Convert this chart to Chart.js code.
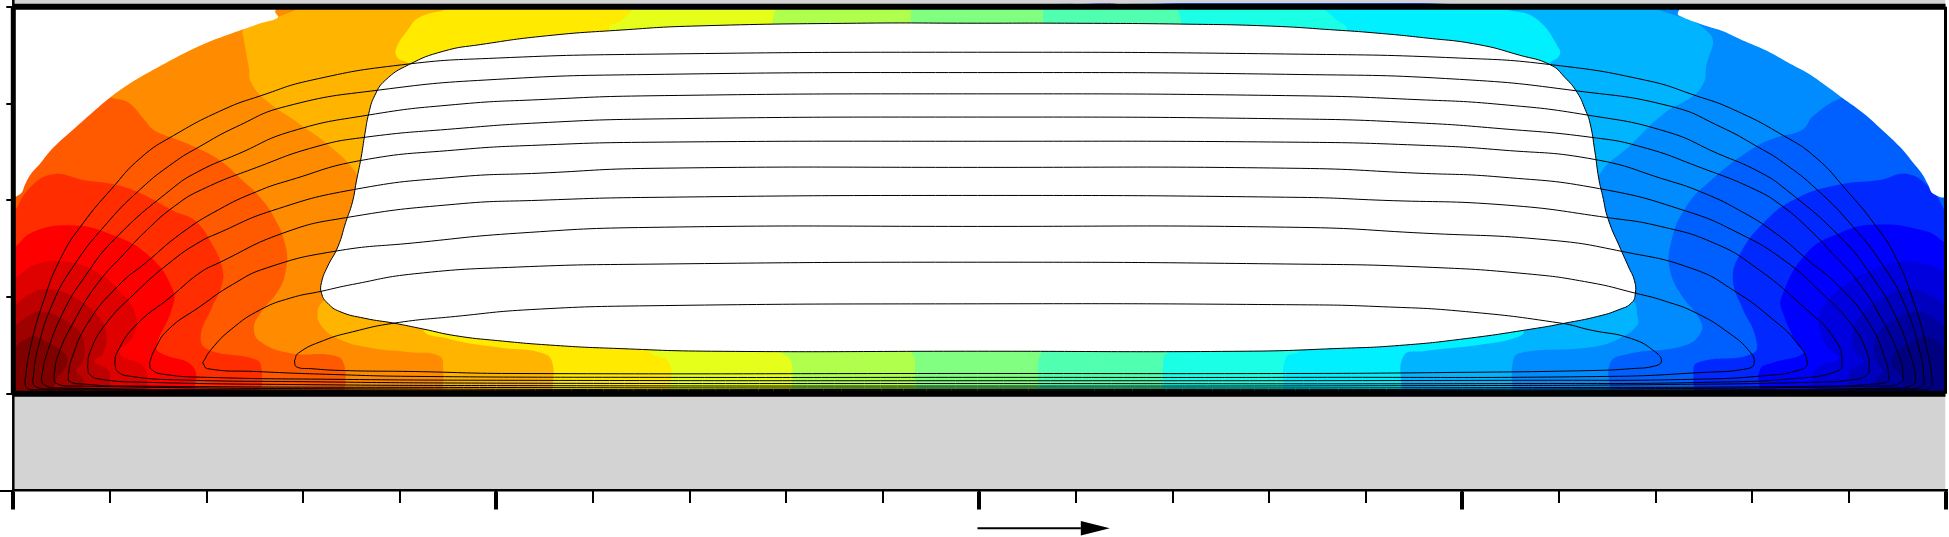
<!DOCTYPE html>
<html>
<head>
<meta charset="utf-8">
<style>
  html, body { margin: 0; padding: 0; background: #fff; overflow: hidden; }
  canvas { display: block; }
</style>
<script src="https://cdn.jsdelivr.net/npm/chart.js@4/dist/chart.umd.min.js"></script>
</head>
<body>
<canvas id="myChart" width="1949" height="537"></canvas>
<script>
// band colours, coldest first, each one fills everything left of its edge
const baseColor = '#000080';
const bandColors = [
  '#00009f', '#0000bf', '#0000df', '#0000ff', '#0028ff', '#0060ff', '#008cff', '#00b4ff',
  '#00f0ff', '#1affe6', '#50ffb0', '#80ff80', '#b0ff4d', '#e6ff1a', '#ffea00', '#ffb400',
  '#ff8c00', '#ff5a00', '#ff2d00', '#ff0000', '#df0000', '#bf0000', '#9f0000', '#800000'
];

// contour edges, top to bottom
const bandEdges = [
  [[2000,47],[1988,56],[1978,59],[1962,52],[1949,44],[1944,34],[1949,23],[1955,16],[1959,0]],
  [[2000,69],[1985,80],[1971,85],[1950,78],[1931,63],[1926,49],[1929,32],[1935,23],[1928,16],[1928,0]],
  [[2000,92],[1980,104],[1961,108],[1936,99],[1912,80],[1904,63],[1907,42],[1916,33],[1902,25],[1900,13],[1900,0]],
  [[2000,127],[1980,134],[1956,137],[1925,128],[1890,108],[1871,85],[1870,66],[1880,45],[1890,37],[1865,25],[1864,0]],
  [[2000,156],[1980,168],[1928,175],[1890,166],[1856,145],[1830,99],[1832,83],[1846,52],[1853,42],[1821,32],[1808,25],[1808,0]],
  [[2000,188],[1987,209],[1962,227],[1932,221],[1889,216],[1846,202],[1812,177],[1786,142],[1780,117],[1790,88],[1803,60],[1801,42],[1743,32],[1739,18],[1741,0]],
  [[2000,340],[1893,306],[1863,287],[1852,273],[1825,265],[1803,255],[1760,223],[1730,191],[1715,152],[1715,127],[1726,103],[1745,78],[1747,64],[1730,50],[1670,41],[1653,32],[1653,0]],
  [[1696,400],[1756,372],[1752,336],[1750,322],[1739,308],[1709,290],[1675,258],[1640,223],[1620,150],[1660,105],[1677,96],[1681,81],[1681,71],[1662,57],[1632,48],[1559,42],[1552,32],[1552,0]],
  [[1530,400],[1546,397],[1576,388],[1600,357],[1600,349],[1589,340],[1500,200],[1520,100],[1563,65],[1555,58],[1520,51],[1460,44],[1439,39],[1437,0]],
  [[1350,400],[1357,397],[1368,388],[1380,375],[1300,200],[1332,50],[1332,44],[1317,37],[1315,0]],
  [[1205,400],[1209,380],[1200,200],[1197,50],[1197,44],[1191,38],[1190,0]],
  [[1066,400],[1066,380],[1065,200],[1064,50],[1064,42],[1061,35],[1061,0]],
  [[929,400],[929,380],[930,200],[929,50],[929,44],[933,37],[933,0]],
  [[789,400],[786,380],[800,200],[790,50],[796,42],[805,34],[806,0]],
  [[645,400],[628,385],[617,377],[700,200],[655,50],[660,42],[679,32],[680,0]],
  [[455,400],[447,397],[420,389],[409,377],[396,356],[398,347],[409,340],[450,200],[440,120],[424,68],[450,57],[501,48],[548,42],[558,32],[558,0]],
  [[300,400],[278,391],[239,377],[239,365],[244,336],[246,322],[261,304],[295,280],[329,255],[355,228],[372,195],[351,124],[320,95],[315,84],[319,70],[338,56],[372,47],[410,43],[441,39],[445,25],[444,0]],
  [[0,340],[102,306],[119,301],[136,283],[145,273],[166,264],[188,255],[214,241],[239,219],[252,207],[269,184],[282,152],[282,127],[274,106],[257,85],[249,67],[257,53],[287,42],[334,39],[343,28],[343,0]],
  [[0,186],[18,214],[42,227],[72,221],[106,216],[132,207],[166,189],[188,179],[205,156],[216,131],[216,113],[205,88],[194,60],[201,46],[252,35],[257,25],[257,0]],
  [[0,150],[22,168],[63,174],[98,166],[139,144],[165,108],[164,87],[148,49],[153,42],[186,28],[188,0]],
  [[0,118],[22,133],[50,137],[84,127],[112,104],[127,80],[124,59],[110,42],[136,27],[138,0]],
  [[0,90],[19,104],[38,108],[64,99],[88,80],[96,63],[93,42],[84,33],[98,25],[100,13],[100,0]],
  [[0,69],[15,80],[29,85],[50,78],[69,63],[74,49],[71,32],[65,23],[72,16],[72,0]],
  [[0,47],[12,56],[22,59],[38,52],[51,44],[56,34],[51,23],[45,16],[41,0]]
];

// blank regions of the field
const cornerLeft = [[0,400],[0,205],[8,207],[12,216],[18,227],[27,237],[42,255],[63,274],[81,290],[100,306],[115,317],[136,330],[158,342],[179,353],[201,363],[222,371],[239,377],[256,383],[274,389],[271,395],[275,400]];
const cornerRight = [[2000,400],[2000,205],[1987,207],[1982,216],[1976,227],[1968,237],[1953,255],[1933,274],[1915,290],[1893,306],[1878,317],[1858,331],[1836,343],[1816,354],[1793,364],[1769,375],[1750,381],[1724,391],[1723,394],[1727,400]];
const hole = [
  [998,383],[873,383],[702,380],[630,376],[552,370],[484,361],[445,354],[409,340],[385,324],[374,308],[368,290],[364,269],[360,244],[355,219],
  [351,198],[344,177],[336,152],[325,131],[319,115],[319,104],[325,94],[338,85],[364,78],[394,73],[424,67],[458,60],[501,55],[561,50],[621,47],
  [723,44],[998,44],[1275,44],[1375,47],[1435,50],[1503,57],[1572,67],[1606,73],[1640,80],[1662,87],[1675,94],[1679,104],[1678,117],[1672,131],
  [1664,149],[1651,180],[1645,205],[1641,223],[1637,251],[1632,280],[1627,294],[1619,311],[1606,327],[1591,340],[1559,350],[1516,361],[1460,368],
  [1409,373],[1368,376],[1302,380],[1217,382],[1088,383],[998,383]
];

// closed stream lines, innermost first
const streamLines = [
  [[291,34],[295,42],[321,55],[351,64],[394,73],[458,80],[535,87],[659,91],[998,93],[1332,92],[1417,90],[1503,85],[1602,73],[1632,66],[1675,57],[1700,43],[1706,34],[1700,29],[1675,26],[1632,24],[1482,22],[1332,21],[998,21],[514,21],[415,23],[343,24],[308,26],[293,28],[291,34]],
  [[196,32],[205,46],[226,67],[256,87],[287,99],[319,106],[351,113],[415,124],[522,131],[659,134],[998,136],[1332,134],[1460,131],[1567,124],[1632,115],[1679,104],[1709,96],[1743,83],[1777,62],[1797,44],[1802,32],[1795,26],[1747,22],[1653,18],[1332,17],[998,17],[659,17],[415,18],[330,20],[252,23],[201,26],[196,32]],
  [[141,32],[146,45],[160,66],[193,90],[227,113],[262,130],[331,147],[415,156],[522,166],[659,172],[998,173],[1332,172],[1460,166],[1589,159],[1666,147],[1739,129],[1782,106],[1820,78],[1846,53],[1857,32],[1850,25],[1816,19],[1739,15],[1589,14],[998,13.5],[500,14],[330,15],[201,17],[157,20],[143,25],[141,32]],
  [[105,32],[107,42],[126,70],[164,101],[193,125],[212,135],[279,166],[344,182],[458,196],[544,200],[659,203],[998,205],[1332,203],[1417,200],[1546,195],[1651,182],[1705,173],[1760,156],[1803,131],[1855,88],[1885,57],[1893,32],[1887,23],[1846,16],[1760,12],[1589,10.6],[998,10.6],[500,11],[300,12.5],[167,14.5],[122,18],[108,23],[105,32]],
  [[77,28],[79,42],[94,70],[126,104],[165,138],[193,157],[212,166],[267,189],[352,211],[458,224],[544,228],[659,233],[998,234],[1332,233],[1454,228],[1540,224],[1642,212],[1731,189],[1786,166],[1833,138],[1872,104],[1904,70],[1919,42],[1921,28],[1919,20],[1907,15],[1865,12],[1698,9.5],[1498,8.5],[998,8],[500,8.5],[300,9.5],[133,12],[91,15],[79,20],[77,28]],
  [[57,20],[60,35],[77,73],[108,111],[139,137],[174,166],[212,190],[252,209],[287,221],[359,241],[458,252],[544,257],[659,260],[998,261],[1332,260],[1454,257],[1540,252],[1638,242],[1711,221],[1746,209],[1786,190],[1824,166],[1859,137],[1890,111],[1921,73],[1938,35],[1941,20],[1940,13],[1924,10],[1883,8],[1600,6.5],[998,6],[500,6.5],[115,8],[74,10],[58,13],[57,20]],
  [[42,18],[46,39],[64,77],[88,115],[115,145],[139,170],[167,194],[195,211],[252,234],[312,255],[363,265],[458,274],[544,280],[659,284],[998,286],[1332,284],[1454,280],[1540,274],[1634,265],[1686,255],[1746,234],[1803,211],[1831,194],[1859,170],[1883,145],[1910,115],[1934,77],[1952,39],[1956,18],[1953,11],[1935,8],[1600,5],[998,4.5],[400,5],[64,8],[44,11],[42,18]],
  [[29,16],[34,39],[51,83],[74,121],[105,160],[163,211],[192,230],[233,248],[287,271],[367,288],[458,299],[544,304],[659,308],[998,310],[1332,308],[1454,304],[1540,299],[1630,288],[1711,271],[1765,248],[1806,230],[1835,211],[1893,160],[1924,121],[1947,83],[1964,39],[1969,16],[1967,10],[1952,6],[1600,3.8],[998,3.5],[400,3.8],[46,6],[31,10],[29,16]],
  [[20,13],[25,45],[41,94],[63,133],[94,173],[131,211],[166,239],[192,255],[231,276],[282,297],[379,314],[501,325],[659,330],[998,332],[1332,330],[1497,325],[1619,313],[1716,297],[1767,276],[1806,255],[1832,239],[1867,211],[1904,173],[1935,133],[1957,94],[1973,45],[1978,13],[1976,8],[1962,5],[998,2.5],[36,5],[22,8],[20,13]],
  [[12,13],[17,45],[31,95],[50,142],[72,176],[101,211],[132,244],[166,267],[218,294],[256,308],[308,324],[402,340],[501,347],[659,351],[998,353],[1332,351],[1497,347],[1593,340],[1690,324],[1742,308],[1780,294],[1832,267],[1866,244],[1897,211],[1926,176],[1948,142],[1967,95],[1981,45],[1986,13],[1984,6],[1972,4],[998,1.8],[26,4],[14,6],[12,13]]
];

// frame, wall and the flow direction arrow
const wall = [[0,407],[2000,407],[2000,-100],[0,-100]];
const field = [[0,400],[2000,400],[2000,0],[0,0]];
const leftAxis = [[0,407],[0,-100]];
const frameTop = [[0,400],[2000,400]];
const frameBottom = [[0,0],[2000,0]];
const frameLeft = [[0,400],[0,0]];
const frameRight = [[2000,400],[2000,0]];
const arrowShaft = [[998,-139],[1105,-139]];
const arrowHead = [[1105,-131.5],[1135,-139],[1105,-146.5]];

const xMajorStep = 500;
const xMinorStep = 100;
const yStep = 100;
const yWallTick = [-100];

function pts(list) {
  return list.map(([x, y]) => ({x, y}));
}

// an edge from the top or the right has to run round the corners of the field
// first and last point are doubled so the curve does not swing past the frame
function bandShape(edge) {
  const first = edge[0];
  const last = edge[edge.length - 1];
  if (first[0] === 0) return edge.concat([last, [0,0]]);
  if (first[0] === 2000) return [[0,400],[2000,400],first].concat(edge, [last, [0,0]]);
  return [[0,400],first].concat(edge, [last, [0,0]]);
}

function shape(list, color, extra) {
  return Object.assign({
    data: pts(list), showLine: true, pointRadius: 0, borderWidth: 0, tension: 0,
    backgroundColor: color, borderColor: color, fill: 'shape'
  }, extra);
}

function stroke(list, width, extra) {
  return Object.assign({
    data: pts(list), showLine: true, pointRadius: 0, borderWidth: width,
    borderColor: '#000', backgroundColor: '#000', fill: false, tension: 0, clip: false
  }, extra);
}

const datasets = [];
datasets.push(shape(wall, '#d3d3d3'));
datasets.push(shape(field, baseColor));
bandEdges.forEach((edge, i) => {
  datasets.push(shape(bandShape(edge), bandColors[i], {tension: 0.45}));
});
datasets.push(shape(cornerLeft, '#fff', {tension: 0.4}));
datasets.push(shape(cornerRight, '#fff', {tension: 0.4}));
datasets.push(shape(hole, '#fff', {tension: 0.5, borderWidth: 1, borderColor: '#000'}));
streamLines.forEach(line => datasets.push(stroke(line, 1, {tension: 0.5})));
datasets.push(stroke(leftAxis, 2.5));
datasets.push(stroke(frameTop, 6));
datasets.push(stroke(frameBottom, 6));
datasets.push(stroke(frameLeft, 5));
datasets.push(stroke(frameRight, 3));
datasets.push(stroke(arrowShaft, 2));
datasets.push(shape(arrowHead, '#000'));
// chart.js paints the lowest order last
datasets.forEach((d, i) => { d.order = datasets.length - i; });

function axisGrid(len, width) {
  return {drawOnChartArea: false, drawTicks: true, tickLength: len, lineWidth: width, color: '#000'};
}

new Chart(document.getElementById('myChart').getContext('2d'), {
  type: 'scatter',
  data: {datasets},
  options: {
    responsive: false,
    animation: false,
    events: [],
    layout: {padding: {left: 0, right: 3.5, top: 0, bottom: 0}},
    plugins: {legend: {display: false}, tooltip: {enabled: false}, title: {display: false}},
    scales: {
      x: {
        type: 'linear', min: 0, max: 2000, position: {y: -100},
        ticks: {display: false, stepSize: xMajorStep},
        grid: axisGrid(18, 4),
        border: {color: '#000', width: 2.5, z: 1}
      },
      x2: {
        type: 'linear', axis: 'x', min: 0, max: 2000, position: {y: -100},
        ticks: {display: false, stepSize: xMinorStep},
        grid: axisGrid(12, 2),
        border: {display: false}
      },
      y: {
        type: 'linear', min: -148, max: 407, position: 'left',
        ticks: {display: false, stepSize: yStep, includeBounds: false},
        grid: axisGrid(7, 2),
        border: {display: false},
        afterFit(scale) { scale.width = 13.3; }
      },
      y2: {
        type: 'linear', axis: 'y', min: -148, max: 407, position: {x: 0},
        ticks: {display: false},
        afterBuildTicks(scale) { scale.ticks = yWallTick.map(value => ({value})); },
        grid: axisGrid(13, 2),
        border: {display: false}
      }
    }
  }
});
</script>
</body>
</html>
